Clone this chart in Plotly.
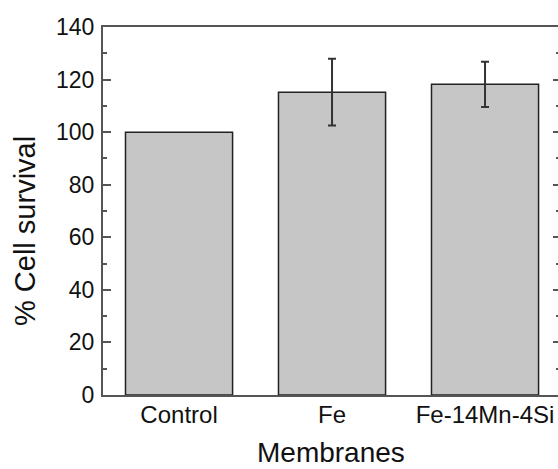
import plotly.graph_objects as go

categories = ["Control", "Fe", "Fe-14Mn-4Si"]
survival = [100, 115.2, 118.2]
errors = [0, 12.7, 8.6]
y_ticks = [0, 20, 40, 60, 80, 100, 120, 140]

FONT = "Liberation Sans, Arial, sans-serif"
AX = "#555555"

# error bars only where an error was reported
has_err = [e > 0 for e in errors]
err_x = [c for c, h in zip(categories, has_err) if h]
err_y = [v for v, h in zip(survival, has_err) if h]
err_v = [e for e, h in zip(errors, has_err) if h]

fig = go.Figure()
fig.add_trace(go.Bar(
    x=categories, y=survival, width=0.7,
    marker=dict(color="#c6c6c6", line=dict(color="#222222", width=1.5)),
    showlegend=False, hoverinfo="skip",
))
fig.add_trace(go.Scatter(
    x=err_x, y=err_y, mode="markers", marker=dict(opacity=0),
    error_y=dict(type="data", array=err_v, visible=True, color="#333333",
                 thickness=2, width=4),
    showlegend=False, hoverinfo="skip",
))
fig.add_trace(go.Scatter(
    x=categories, y=survival, yaxis="y2", mode="markers",
    marker=dict(opacity=0), showlegend=False, hoverinfo="skip",
))

fig.update_layout(
    width=558, height=469,
    margin=dict(l=103, r=0, t=27, b=74),
    paper_bgcolor="white", plot_bgcolor="white",
    font=dict(family=FONT, color="#111111", size=23),
    xaxis=dict(
        range=[-0.497, 2.477], showline=True, mirror=True, automargin=False,
        linecolor=AX, linewidth=2, ticks="", showgrid=False,
        tickfont=dict(size=24), ticklabelstandoff=-3,
    ),
    yaxis=dict(
        range=[0, 140], tickvals=y_ticks, showline=True, mirror=False, automargin=False,
        linecolor=AX, linewidth=2, ticks="inside", ticklen=8, tickwidth=1.5,
        tickcolor=AX, showgrid=False, zeroline=False,
        minor=dict(ticks="inside", ticklen=4, tickwidth=1.5, tickcolor=AX, dtick=10),
        tickfont=dict(size=23), ticklabelstandoff=2,
    ),
    yaxis2=dict(
        range=[0, 140], tickvals=y_ticks, overlaying="y", side="right", automargin=False,
        showline=False, ticks="inside", ticklen=5, tickwidth=1.5, tickcolor=AX,
        showticklabels=False, showgrid=False, zeroline=False,
        minor=dict(ticks="inside", ticklen=2, tickwidth=1.5, tickcolor=AX, dtick=10),
    ),
    annotations=[
        dict(text="% Cell survival", xref="paper", yref="paper",
             x=-0.1714, y=0.4457, xanchor="center", yanchor="middle",
             textangle=-90, showarrow=False, font=dict(size=29)),
        dict(text="Membranes", xref="paper", yref="paper",
             x=0.501, y=-0.1549, xanchor="center", yanchor="middle",
             showarrow=False, font=dict(size=28)),
    ],
)

fig.write_html("out.html", config={"displayModeBar": False},
               post_script="document.body.style.margin='0';")
